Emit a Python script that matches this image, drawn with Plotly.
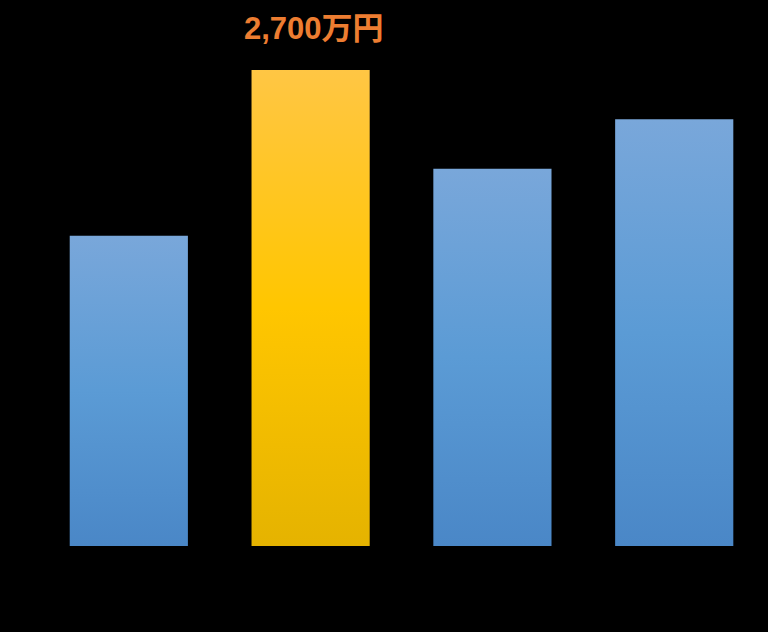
import plotly.graph_objects as go

# Values (万円)
categories = ["A", "B", "C", "D"]
values = [1760, 2700, 2140, 2420]
highlight = [False, True, False, False]
label_text = "2,700万円"

BLUE_SCALE = [[0, "#4A87C7"], [0.5, "#5B9BD5"], [1, "#79A7DA"]]
GOLD_SCALE = [[0, "#E5B300"], [0.5, "#FFC600"], [1, "#FFC644"]]
HALF_W = 0.325

fig = go.Figure()

# bars drawn as filled scatter shapes so they can take a vertical gradient
for i, (cat, val, hl) in enumerate(zip(categories, values, highlight)):
    fig.add_trace(go.Scatter(
        x=[i - HALF_W, i + HALF_W, i + HALF_W, i - HALF_W, i - HALF_W],
        y=[0, 0, val, val, 0],
        mode="lines",
        line=dict(width=0),
        fill="toself",
        fillgradient=dict(
            type="vertical",
            colorscale=GOLD_SCALE if hl else BLUE_SCALE,
            start=0,
            stop=val,
        ),
        name=cat,
        hoverinfo="skip",
        showlegend=False,
    ))

# value label above the highlighted bar
hi = highlight.index(True)
fig.add_annotation(
    x=hi, y=values[hi],
    text="<b>" + label_text + "</b>",
    showarrow=False,
    yanchor="bottom",
    yshift=22,
    xshift=3,
    font=dict(family="Liberation Sans, Noto Sans CJK JP", size=31, color="#ED7D31"),
)

fig.update_layout(
    width=768,
    height=632,
    margin=dict(l=0, r=0, t=0, b=0),
    paper_bgcolor="black",
    plot_bgcolor="black",
    xaxis=dict(range=[-0.7085, 3.5158], visible=False, fixedrange=True),
    yaxis=dict(range=[-488, 3097], visible=False, fixedrange=True),
)

fig.write_html(
    "out.html",
    config={"displayModeBar": False},
    post_script="document.body.style.margin='0';document.body.style.background='black';",
)
